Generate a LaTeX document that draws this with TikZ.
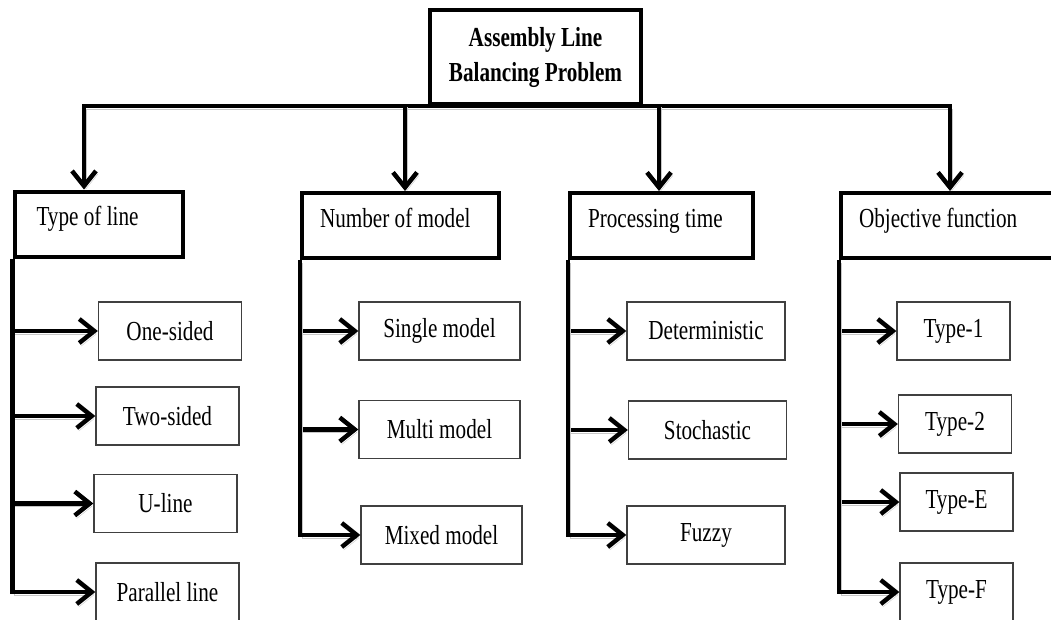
\documentclass[tikz,border=0pt]{standalone}
\usepackage{fontspec}
\setmainfont{Liberation Serif}[FakeStretch=0.77]
\usetikzlibrary{arrows.meta}

\tikzset{
  head/.style={draw, line width=4pt, inner xsep=18pt, align=flush left, text height=19pt, text depth=16pt, minimum height=65pt},
  leaf/.style={draw=black!75, line width=1.3pt, minimum height=58pt, inner sep=0pt},
  link/.style={line width=4.5pt, preaction={draw=black!22, transform canvas={shift={(2pt,-3pt)}}}},
  arrowlink/.style={link, -{Straight Barb[length=15pt,width=24pt]}},
}

\begin{document}
\begin{tikzpicture}[x=1pt, y=-1pt, font=\fontsize{27.5}{33}\selectfont]
  \useasboundingbox (0,0) rectangle (1051,619);

  % Probleme principal
  \node[draw, line width=4pt, minimum width=211pt, minimum height=94pt, align=center,
        font=\fontsize{27.5}{35}\selectfont\bfseries] (top) at (535.5,57) {Assembly Line\\Balancing Problem};

  % Criteres de classification
  \node[head, text width=124pt, inner xsep=22pt] (type) at (98.5,224) {Type of line};
  \node[head, text width=161pt] (num) at (400.5,225.5) {Number of model};
  \node[head, text width=147pt] (proc) at (661.5,225.5) {Processing time};
  \node[head, text width=204pt] (obj) at (961,225.5) {Objective function};

  % Barre horizontale
  \coordinate (b1) at (84,104);
  \coordinate (b2) at (405,104);
  \coordinate (b3) at (659,104);
  \coordinate (b4) at (950,104);
  \draw[arrowlink] (top.south) -| (b1 |- type.north);
  \draw[arrowlink] (top.south) -| (b4 |- obj.north);
  \draw[arrowlink] (b2) -- (b2 |- num.north);
  \draw[arrowlink] (b3) -- (b3 |- proc.north);

  % Type of line
  \foreach \n/\t/\x/\y in {one/One-sided/170/331, two/Two-sided/167.5/416, uline/U-line/165.5/503.5, par/Parallel line/167.5/592} {
    \node[leaf, minimum width=143pt] (\n) at (\x,\y) {\t};
  }
  \foreach \n in {one, two, uline} {
    \draw[arrowlink] (type.south west |- \n.west) -- (\n.west);
  }
  \draw[arrowlink] (type.south west) |- (par.west);

  % Number of model
  \foreach \n/\t/\x/\y in {single/Single model/439.5/331, multi/Multi model/439.5/429.5, mixed/Mixed model/441.5/535} {
    \node[leaf, minimum width=161pt] (\n) at (\x,\y) {\t};
  }
  \foreach \n in {single, multi} {
    \draw[arrowlink] (num.south west |- \n.west) -- (\n.west);
  }
  \draw[arrowlink] (num.south west) |- (mixed.west);

  % Processing time
  \foreach \n/\t/\x/\y in {det/Deterministic/706/331, sto/Stochastic/707.5/430, fuz/Fuzzy/706/535} {
    \node[leaf, minimum width=158pt] (\n) at (\x,\y) {\t};
  }
  \foreach \n in {det, sto} {
    \draw[arrowlink] (proc.south west |- \n.west) -- (\n.west);
  }
  \draw[arrowlink] (proc.south west) |- (fuz.west);

  % Objective function
  \foreach \n/\t/\x/\y in {tone/Type-1/953.5/331, ttwo/Type-2/955/424, te/Type-E/956.5/502, tf/Type-F/956.5/592} {
    \node[leaf, minimum width=113pt] (\n) at (\x,\y) {\t};
  }
  \foreach \n in {tone, ttwo, te} {
    \draw[arrowlink] (obj.south west |- \n.west) -- (\n.west);
  }
  \draw[arrowlink] (obj.south west) |- (tf.west);
\end{tikzpicture}
\end{document}
